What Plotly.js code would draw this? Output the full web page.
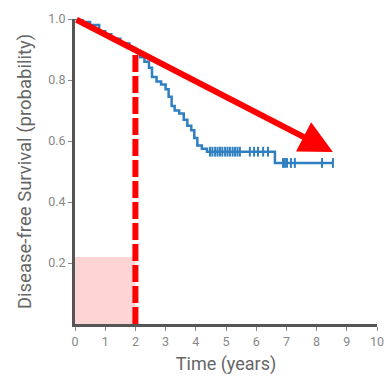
<!DOCTYPE html>
<html><head><meta charset="utf-8">
<script src="https://cdn.plot.ly/plotly-3.0.1.min.js"></script>
<style>html,body{margin:0;padding:0;background:#fff}#c{width:386px;height:379px}</style>
</head><body><div id="c"></div>
<script>
// Kaplan-Meier step curve
var kmTime = [0, 0.25, 0.5, 0.8, 1.0, 1.2, 1.5, 1.8, 2.0, 2.15, 2.3, 2.45, 2.55, 2.7, 2.85, 3.0, 3.1, 3.2, 3.3, 3.45, 3.6, 3.72, 3.85, 3.95, 4.05, 4.2, 4.37, 6.62, 8.54];
var kmSurv = [1.0, 0.99, 0.98, 0.96, 0.95, 0.935, 0.92, 0.905, 0.895, 0.875, 0.86, 0.84, 0.81, 0.795, 0.785, 0.77, 0.745, 0.715, 0.70, 0.69, 0.67, 0.65, 0.635, 0.61, 0.585, 0.575, 0.565, 0.528, 0.528];
// censor marks
var censTime = [4.47, 4.55, 4.64, 4.72, 4.80, 4.88, 4.97, 5.05, 5.13, 5.22, 5.30, 5.38, 5.46, 5.79, 5.93, 6.06, 6.23, 6.39, 6.89, 6.95, 7.02, 7.15, 7.28, 8.18, 8.54];
var censSurv = [0.565, 0.565, 0.565, 0.565, 0.565, 0.565, 0.565, 0.565, 0.565, 0.565, 0.565, 0.565, 0.565, 0.565, 0.565, 0.565, 0.565, 0.565, 0.528, 0.528, 0.528, 0.528, 0.528, 0.528, 0.528];
// annotation elements
var arrowStart = [0, 1.0];
var arrowEnd = [8.54, 0.564];
var markerTime = [2, 2];
var markerSurv = [0, 0.89];
var shadeX = [0, 2];
var shadeY = [0, 0.22];
var xTicks = [0,1,2,3,4,5,6,7,8,9,10];
var yTicks = [0.2,0.4,0.6,0.8,1.0];
var yTickText = ['0.2','0.4','0.6','0.8','1.0'];

var blue = '#2f7fc1';
var traces = [
  {x: markerTime, y: markerSurv, mode:'lines', line:{color:'#ff0000', width:6, dash:'17px,4px'}, hoverinfo:'skip'},
  {x: kmTime, y: kmSurv, mode:'lines', line:{color:blue, width:2.5, shape:'hv'}},
  {x: censTime, y: censSurv, mode:'markers', marker:{symbol:'line-ns', size:7, line:{color:blue, width:2}}}
];
var fontFam = 'Roboto, "Liberation Sans", sans-serif';
var layout = {
  width:386, height:379,
  margin:{l:75, r:9, t:19, b:55},
  showlegend:false,
  paper_bgcolor:'#fff', plot_bgcolor:'#fff',
  font:{family:fontFam, color:'#777', size:12},
  xaxis:{range:[0,10], tickvals:xTicks, ticks:'outside', ticklen:4, tickcolor:'#888', tickwidth:1,
    showgrid:false, zeroline:false, showline:true, linecolor:'#555', linewidth:3,
    tickfont:{size:12.5, color:'#888'},
    title:{text:'Time (years)', font:{size:18, color:'#666'}, standoff:10}},
  yaxis:{range:[0,1], tickvals:yTicks, ticktext:yTickText, ticks:'outside', ticklen:4, tickcolor:'#888', tickwidth:1,
    showgrid:false, zeroline:false, showline:true, linecolor:'#555', linewidth:3,
    tickfont:{size:12.5, color:'#888'},
    title:{text:'Disease-free Survival (probability)', font:{size:18.5, color:'#666'}, standoff:12}},
  shapes:[{type:'rect', xref:'x', yref:'y', x0:shadeX[0], x1:shadeX[1], y0:shadeY[0], y1:shadeY[1],
    fillcolor:'rgba(255,0,0,0.17)', line:{width:0}, layer:'below'}],
  annotations:[{x:arrowEnd[0], y:arrowEnd[1], ax:arrowStart[0], ay:arrowStart[1], xref:'x', yref:'y', axref:'x', ayref:'y',
    showarrow:true, arrowhead:2, arrowsize:1.1, arrowwidth:6, arrowcolor:'#ff0000', text:''}]
};
Plotly.newPlot('c', traces, layout, {displayModeBar:false, staticPlot:true});
</script></body></html>
